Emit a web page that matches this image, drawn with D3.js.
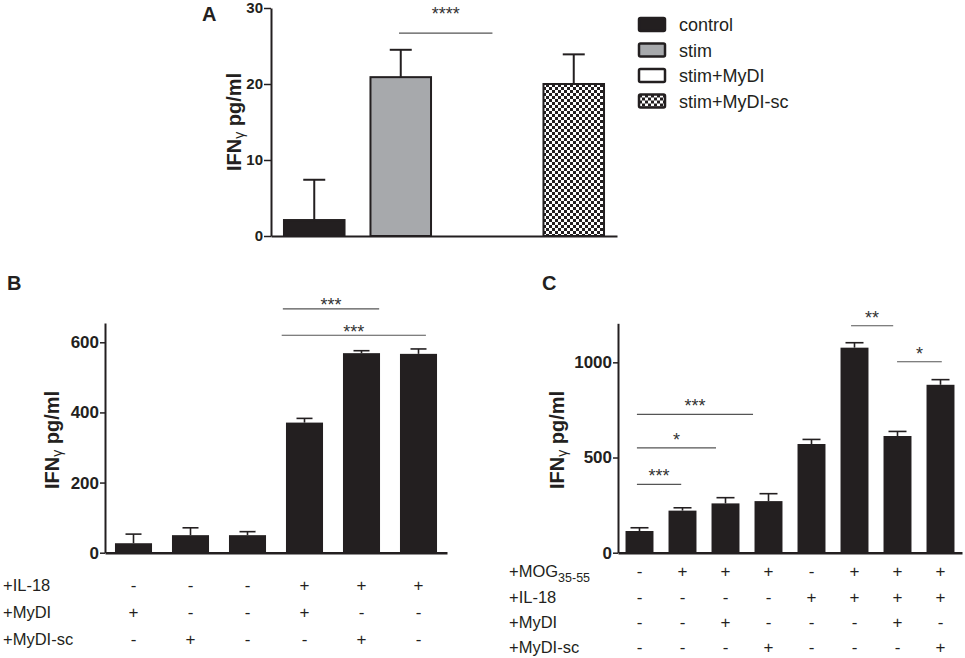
<!DOCTYPE html>
<html>
<head>
<meta charset="utf-8">
<script src="https://cdn.jsdelivr.net/npm/d3@7"></script>
<style>
    body { margin: 0; background: #fff; }
    text { font-family: "Liberation Sans", Arial, sans-serif; fill: #231f20; }
</style>
</head>
<body>
<svg id="fig" width="965" height="658"></svg>
<script>
// ---- panel A data ----
let aGroups = ["control", "stim", "stim+MyDI", "stim+MyDI-sc"];
let aMeans = [2.1, 20.9, 0, 20.0];
let aErrTop = [7.4, 24.5, 0, 23.9];
let aTicks = [0, 10, 20, 30];
let aSig = [[0.98, 2.06, 26.7, "****"]];   // from, to (group index), y value, label

// ---- panel B data ----
let bRows = ["+IL-18", "+MyDI", "+MyDI-sc"];
let bTable = [
    ["-", "-", "-", "+", "+", "+"],
    ["+", "-", "-", "+", "-", "-"],
    ["-", "+", "-", "-", "+", "-"]
];
let bMeans = [27, 50, 50, 371, 569, 567];
let bErrTop = [53, 71, 60, 383, 576, 581];
let bTicks = [0, 200, 400, 600];
let bSig = [[2.62, 4.31, 695, "***"], [2.6, 5.13, 620, "***"]];

// ---- panel C data ----
let cRows = ["+MOG", "+IL-18", "+MyDI", "+MyDI-sc"];
let cTable = [
    ["-", "+", "+", "+", "-", "+", "+", "+"],
    ["-", "-", "-", "-", "+", "+", "+", "+"],
    ["-", "-", "+", "-", "-", "-", "+", "-"],
    ["-", "-", "-", "+", "-", "-", "-", "+"]
];
let cMeans = [114, 221, 259, 271, 571, 1077, 613, 882];
let cErrTop = [131, 236, 289, 310, 595, 1103, 637, 909];
let cTicks = [0, 500, 1000];
let cSig = [[-0.06, 0.97, 359, "***"], [-0.06, 1.78, 551, "*"], [-0.06, 2.64, 727, "***"],
            [4.92, 5.9, 1192, "**"], [5.99, 7.03, 1003, "*"]];

let dark = "#231f20";
let svg = d3.select("#fig");

// checker pattern for stim+MyDI-sc
let pat = svg.append("defs").append("pattern")
    .attr("id", "checker").attr("width", 6).attr("height", 6)
    .attr("patternUnits", "userSpaceOnUse");
pat.append("rect").attr("width", 6).attr("height", 6).attr("fill", "#fff");
pat.append("rect").attr("width", 3).attr("height", 3).attr("fill", dark);
pat.append("rect").attr("x", 3).attr("y", 3).attr("width", 3).attr("height", 3).attr("fill", dark);

let aFills = [dark, "#a7a9ac", "#fff", "url(#checker)"];

function yLabel(g, cx, cy) {
    let t = g.append("text")
        .attr("transform", "translate(" + cx + "," + cy + ") rotate(-90)")
        .attr("text-anchor", "middle")
        .attr("dy", "0.35em")
        .attr("font-size", 20).attr("font-weight", "bold");
    t.append("tspan").text("IFN");
    t.append("tspan").text("γ").attr("font-size", 14).attr("font-weight", "normal").attr("dy", 3);
    t.append("tspan").text(" pg/ml").attr("dy", -3);
}

function panel(cfg) {
    let g = svg.append("g");
    let n = cfg.means.length;
    let x = d3.scaleBand().domain(d3.range(n)).range(cfg.xRange)
        .paddingInner(cfg.pad).paddingOuter(cfg.pad / 2);
    let y = d3.scaleLinear().domain(cfg.yDomain).range(cfg.yRange);
    let bw = x.bandwidth();
    let pos = d3.scaleLinear().domain([0, n - 1]).range([x(0) + bw / 2, x(n - 1) + bw / 2]);

    // bars
    g.selectAll("rect.bar").data(cfg.means).enter().append("rect")
        .attr("class", "bar")
        .attr("x", (d, i) => x(i))
        .attr("y", d => y(d))
        .attr("width", bw)
        .attr("height", d => y(0) - y(d))
        .attr("fill", (d, i) => cfg.fills ? cfg.fills[i] : dark)
        .attr("stroke", dark)
        .attr("stroke-width", cfg.barStroke);

    // error bars (upper only)
    let errs = cfg.errTop.map((e, i) => ({i: i, mean: cfg.means[i], top: e}))
        .filter(d => d.top > d.mean);
    let eb = g.selectAll("g.err").data(errs).enter().append("g");
    eb.append("line")
        .attr("x1", d => pos(d.i)).attr("x2", d => pos(d.i))
        .attr("y1", d => y(d.mean)).attr("y2", d => y(d.top))
        .attr("stroke", dark).attr("stroke-width", cfg.errW);
    eb.append("line")
        .attr("x1", d => pos(d.i) - cfg.cap / 2)
        .attr("x2", d => pos(d.i) + cfg.cap / 2)
        .attr("y1", d => y(d.top)).attr("y2", d => y(d.top))
        .attr("stroke", dark).attr("stroke-width", cfg.errW);

    // axes
    let xAxis = g.append("g").attr("transform", "translate(0," + y(0) + ")")
        .call(d3.axisBottom(x).tickSize(0).tickFormat(""));
    xAxis.select(".domain").attr("stroke", dark).attr("stroke-width", cfg.xAxisW);

    let yAxis = g.append("g").attr("transform", "translate(" + cfg.xRange[0] + ",0)")
        .call(d3.axisLeft(y).tickValues(cfg.ticks).tickFormat(d3.format("d"))
            .tickSize(cfg.tickLen).tickSizeOuter(0).tickPadding(1));
    yAxis.select(".domain").attr("stroke", dark).attr("stroke-width", 2);
    yAxis.selectAll(".tick line").attr("stroke", dark).attr("stroke-width", 1.5);
    yAxis.selectAll(".tick text")
        .attr("font-size", cfg.tickFont).attr("font-weight", "bold")
        .attr("font-family", "Liberation Sans, Arial, sans-serif").attr("fill", dark);

    // significance lines
    cfg.sig.forEach(s => {
        g.append("line")
            .attr("x1", pos(s[0])).attr("x2", pos(s[1]))
            .attr("y1", y(s[2])).attr("y2", y(s[2]))
            .attr("stroke", "#555").attr("stroke-width", 1.2);
        g.append("text")
            .attr("x", (pos(s[0]) + pos(s[1])) / 2)
            .attr("y", y(s[2]) - cfg.sigGap)
            .attr("text-anchor", "middle")
            .attr("font-size", 18).style("fill", "#333")
            .text(s[3]);
    });

    // condition table
    if (cfg.table) {
        cfg.table.forEach((row, r) => {
            let lab = g.append("text").attr("x", cfg.labelX).attr("y", cfg.rowY[r])
                .attr("font-size", 16.5);
            lab.append("tspan").text(cfg.rows[r]);
            if (cfg.rows[r] == "+MOG") {
                lab.append("tspan").text("35-55").attr("font-size", 12.5).attr("dy", 5);
            }
            g.selectAll(null).data(row).enter().append("text")
                .attr("x", (d, i) => pos(i))
                .attr("y", cfg.rowY[r])
                .attr("text-anchor", "middle")
                .attr("font-size", 17)
                .text(d => d);
        });
    }
    return g;
}

// Panel A
panel({
    means: aMeans, errTop: aErrTop, ticks: aTicks, fills: aFills,
    xRange: [271, 617], pad: 0.3, yDomain: [0, 30], yRange: [236, 8],
    barStroke: 2, errW: 2, cap: 22, xAxisW: 2, tickLen: 7, tickFont: 15,
    sig: aSig, sigGap: 13
});
svg.append("text").attr("x", 202).attr("y", 21).attr("font-size", 20).attr("font-weight", "bold").text("A");
yLabel(svg, 234, 122);

// legend for A
let leg = svg.append("g").selectAll("g").data(aGroups).enter().append("g")
    .attr("transform", (d, i) => "translate(639," + (18 + i * 25.5) + ")");
leg.append("rect").attr("width", 26).attr("height", 13).attr("rx", 1.5)
    .attr("fill", (d, i) => aFills[i]).attr("stroke", dark).attr("stroke-width", 2.5);
leg.append("text").attr("x", 40).attr("y", 13).attr("font-size", 18).text(d => d);

// Panel B
panel({
    means: bMeans, errTop: bErrTop, ticks: bTicks,
    xRange: [105, 447], pad: 0.35, yDomain: [0, 655], yRange: [552.7, 323],
    barStroke: 0, errW: 1.6, cap: 16, xAxisW: 2.5, tickLen: 5, tickFont: 17,
    sig: bSig, sigGap: -2.5, table: bTable, rows: bRows, labelX: 3, rowY: [591, 618, 645]
});
svg.append("text").attr("x", 7).attr("y", 290).attr("font-size", 20).attr("font-weight", "bold").text("B");
yLabel(svg, 52, 440);

// Panel C
panel({
    means: cMeans, errTop: cErrTop, ticks: cTicks,
    xRange: [618, 962], pad: 0.35, yDomain: [0, 1205], yRange: [552.7, 323.3],
    barStroke: 0, errW: 1.6, cap: 18, xAxisW: 2.5, tickLen: 5, tickFont: 17,
    sig: cSig, sigGap: 2, table: cTable, rows: cRows, labelX: 509, rowY: [577, 603, 628, 653]
});
svg.append("text").attr("x", 542).attr("y", 290).attr("font-size", 20).attr("font-weight", "bold").text("C");
yLabel(svg, 557, 440);
</script>
</body>
</html>
